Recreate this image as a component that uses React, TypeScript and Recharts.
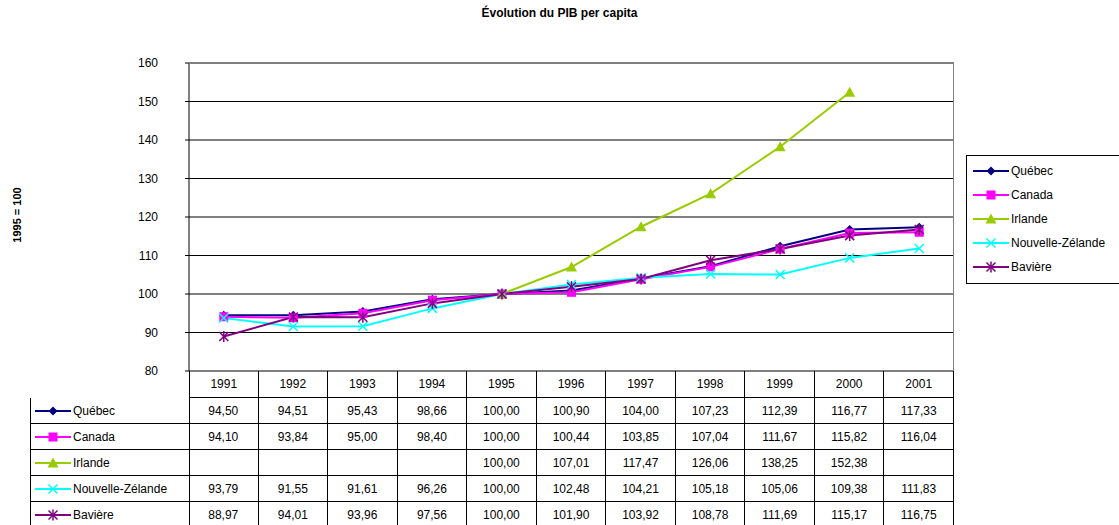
import React from "react"
import { ComposedChart, Line, XAxis, YAxis, CartesianGrid } from "recharts"

// PIB per capita, 1995 = 100
const years = ["1991", "1992", "1993", "1994", "1995", "1996", "1997", "1998", "1999", "2000", "2001"]
const quebec = [94.5, 94.51, 95.43, 98.66, 100.0, 100.9, 104.0, 107.23, 112.39, 116.77, 117.33]
const canada = [94.1, 93.84, 95.0, 98.4, 100.0, 100.44, 103.85, 107.04, 111.67, 115.82, 116.04]
const irlande = [null, null, null, null, 100.0, 107.01, 117.47, 126.06, 138.25, 152.38, null]
const nouvelleZelande = [93.79, 91.55, 91.61, 96.26, 100.0, 102.48, 104.21, 105.18, 105.06, 109.38, 111.83]
const baviere = [88.97, 94.01, 93.96, 97.56, 100.0, 101.9, 103.92, 108.78, 111.69, 115.17, 116.75]
const yTicks = [80, 90, 100, 110, 120, 130, 140, 150, 160]

const series = [
  { key: "quebec", name: "Québec", color: "#000080", shape: "diamond", values: quebec },
  { key: "canada", name: "Canada", color: "#FF00FF", shape: "square", values: canada },
  { key: "irlande", name: "Irlande", color: "#99CC00", shape: "triangle", values: irlande },
  { key: "nz", name: "Nouvelle-Zélande", color: "#00FFFF", shape: "cross", values: nouvelleZelande },
  { key: "baviere", name: "Bavière", color: "#800080", shape: "star", values: baviere },
]

const data = years.map((year, i) => {
  const row: any = { year }
  series.forEach((s) => {
    row[s.key] = s.values[i]
  })
  return row
})

// layout of the plot area
const W = 1119
const H = 525
const plotLeft = 189
const plotRight = 954
const plotTop = 63
const plotBottom = 371
const colW = (plotRight - plotLeft) / years.length
const headerH = 27
const rowH = 26
const font = "'Liberation Sans', Arial, sans-serif"

const fmt = (v: number | null) => (v == null ? "" : v.toFixed(2).replace(".", ","))

function Marker({ cx, cy, color, shape }: { cx: number; cy: number; color: string; shape: string }) {
  if (shape === "diamond") {
    const r = 4.5
    return <polygon points={`${cx},${cy - r} ${cx + r},${cy} ${cx},${cy + r} ${cx - r},${cy}`} fill={color} />
  }
  if (shape === "square") {
    return <rect x={cx - 4.5} y={cy - 4.5} width={9} height={9} fill={color} />
  }
  if (shape === "triangle") {
    return <polygon points={`${cx},${cy - 5.5} ${cx + 5.5},${cy + 4.5} ${cx - 5.5},${cy + 4.5}`} fill={color} />
  }
  const r = 4.5
  return (
    <g stroke={color} strokeWidth={1.5}>
      <line x1={cx - r} y1={cy - r} x2={cx + r} y2={cy + r} />
      <line x1={cx - r} y1={cy + r} x2={cx + r} y2={cy - r} />
      {shape === "star" && <line x1={cx} y1={cy - r - 1} x2={cx} y2={cy + r + 1} />}
    </g>
  )
}

function LegendIcon({ color, shape }: { color: string; shape: string }) {
  return (
    <svg width={38} height={12} style={{ display: "block" }}>
      <line x1={1} y1={6} x2={37} y2={6} stroke={color} strokeWidth={2} />
      <Marker cx={19} cy={6} color={color} shape={shape} />
    </svg>
  )
}

function LegendBox() {
  return (
    <div
      style={{
        position: "absolute",
        left: 966,
        top: 155,
        border: "1px solid #000",
        background: "#fff",
        padding: "3px 0 4px 5px",
        width: 160,
        fontFamily: font,
        fontSize: 12,
      }}
    >
      {series.map((s) => (
        <div key={s.key} style={{ display: "flex", alignItems: "center", height: 24 }}>
          <LegendIcon color={s.color} shape={s.shape} />
          <span style={{ marginLeft: 1 }}>{s.name}</span>
        </div>
      ))}
    </div>
  )
}

function DataTable() {
  const cells: React.ReactNode[] = []
  // header row with years
  years.forEach((y, i) => {
    cells.push(
      <div
        key={`h-${y}`}
        style={{
          position: "absolute",
          left: plotLeft + i * colW,
          top: plotBottom,
          width: colW,
          height: headerH,
          borderLeft: i === 0 ? "1px solid #000" : undefined,
          borderRight: "1px solid #000",
          borderBottom: "1px solid #000",
          boxSizing: "border-box",
          display: "flex",
          alignItems: "center",
          justifyContent: "center",
        }}
      >
        {y}
      </div>
    )
  })
  series.forEach((s, r) => {
    const top = plotBottom + headerH + r * rowH
    cells.push(
      <div
        key={`l-${s.key}`}
        style={{
          position: "absolute",
          left: 30,
          top,
          width: plotLeft - 30 + 1,
          height: rowH,
          borderLeft: "1px solid #000",
          borderRight: "1px solid #000",
          borderBottom: "1px solid #000",
          boxSizing: "border-box",
          display: "flex",
          alignItems: "center",
          paddingLeft: 3,
        }}
      >
        <LegendIcon color={s.color} shape={s.shape} />
        <span style={{ marginLeft: 1 }}>{s.name}</span>
      </div>
    )
    s.values.forEach((v, i) => {
      cells.push(
        <div
          key={`c-${s.key}-${i}`}
          style={{
            position: "absolute",
            left: plotLeft + i * colW,
            top,
            width: colW,
            height: rowH,
            borderRight: "1px solid #000",
            borderBottom: "1px solid #000",
            boxSizing: "border-box",
            display: "flex",
            alignItems: "center",
            justifyContent: "center",
          }}
        >
          {fmt(v)}
        </div>
      )
    })
  })
  return <div style={{ fontFamily: font, fontSize: 12 }}>{cells}</div>
}

export default function App() {
  return (
    <div
      style={{
        position: "absolute",
        left: 0,
        top: 0,
        width: W,
        height: H,
        overflow: "hidden",
        background: "#fff",
        fontFamily: font,
      }}
    >
      <div
        style={{
          position: "absolute",
          left: 0,
          width: W,
          top: 6,
          textAlign: "center",
          fontWeight: "bold",
          fontSize: 12,
        }}
      >
        Évolution du PIB per capita
      </div>
      <div
        style={{
          position: "absolute",
          left: 17,
          top: 215,
          transform: "translate(-50%, -50%) rotate(-90deg)",
          fontWeight: "bold",
          fontSize: 11,
          whiteSpace: "nowrap",
        }}
      >
        1995 = 100
      </div>
      <ComposedChart
        width={W}
        height={H}
        data={data}
        margin={{ top: plotTop, right: W - plotRight, bottom: H - plotBottom, left: 0 }}
      >
        <CartesianGrid vertical={false} stroke="#000" />
        <XAxis
          dataKey="year"
          scale="band"
          height={0}
          tick={false}
          tickLine={false}
          axisLine={{ stroke: "#000" }}
        />
        <YAxis
          width={plotLeft}
          domain={[80, 160]}
          ticks={yTicks}
          interval={0}
          tickSize={4}
          tickMargin={27}
          tick={{ fill: "#000", fontSize: 12, fontFamily: font }}
          axisLine={{ stroke: "#000" }}
          tickLine={{ stroke: "#000" }}
        />
        {series.map((s) => (
          <Line
            key={s.key}
            dataKey={s.key}
            name={s.name}
            stroke={s.color}
            strokeWidth={2}
            isAnimationActive={false}
            connectNulls={false}
            dot={(p: any) =>
              p.cx == null || p.cy == null || p.value == null ? (
                <g key={`${s.key}-${p.index}`} />
              ) : (
                <g key={`${s.key}-${p.index}`}>
                  <Marker cx={p.cx} cy={p.cy} color={s.color} shape={s.shape} />
                </g>
              )
            }
            activeDot={false}
          />
        ))}
      </ComposedChart>
      {/* gray plot border on top and right */}
      <div
        style={{
          position: "absolute",
          left: plotLeft,
          top: plotTop,
          width: plotRight - plotLeft,
          height: plotBottom - plotTop,
          borderTop: "1px solid #808080",
          borderRight: "1px solid #808080",
          boxSizing: "border-box",
          pointerEvents: "none",
        }}
      />
      <LegendBox />
      <DataTable />
    </div>
  )
}
